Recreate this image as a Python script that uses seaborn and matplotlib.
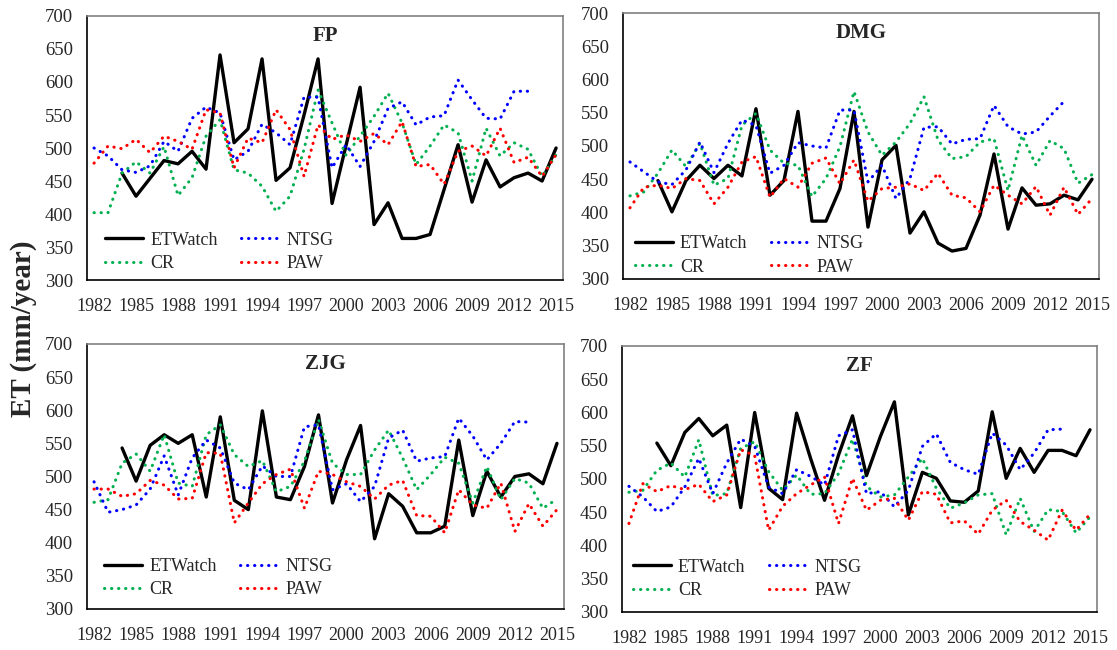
import matplotlib
matplotlib.use("Agg")
import matplotlib.pyplot as plt
import numpy as np
import pandas as pd
import seaborn as sns

nan = np.nan
years = list(range(1982, 2016))
label_years = list(range(1982, 2016, 3))
y_ticks = list(range(300, 701, 50))

# FP
fp_etwatch = [nan, nan, 462, 427, 454, 481, 476, 495, 468, 641, 508, 529, 635, 451, 470, 550, 635,
              416, 504, 592, 384, 417, 363, 363, 369, 437, 505, 418, 482, 441, 455, 462, 450, 500]
fp_cr = [402, 402, 462, 479, 462, 502, 428, 455, 518, 543, 467, 462, 442, 404, 427, 498, 588,
         538, 489, 518, 548, 583, 538, 475, 503, 535, 523, 450, 530, 488, 508, 498, 457, 490]
fp_ntsg = [500, 488, 467, 463, 473, 510, 495, 545, 562, 553, 482, 495, 536, 523, 505, 577, 577,
           470, 505, 472, 510, 560, 570, 535, 547, 549, 603, 573, 545, 544, 586, 586, nan, nan]
fp_paw = [477, 503, 499, 513, 493, 518, 510, 498, 558, 553, 470, 515, 508, 558, 528, 457, 535,
          513, 520, 510, 522, 505, 540, 472, 475, 445, 495, 503, 488, 530, 478, 486, 457, 490]

# DMG
dmg_etwatch = [nan, nan, 448, 401, 448, 471, 451, 471, 455, 556, 426, 448, 552, 387, 387, 436, 552,
               378, 479, 501, 369, 401, 354, 342, 346, 396, 488, 375, 437, 411, 413, 426, 419, 450]
dmg_cr = [425, 431, 459, 494, 469, 504, 441, 451, 531, 549, 494, 474, 471, 424, 451, 499, 582,
          521, 486, 506, 534, 574, 509, 481, 484, 506, 511, 433, 516, 471, 508, 496, 444, 457]
dmg_ntsg = [476, 461, 446, 442, 464, 506, 460, 504, 539, 531, 459, 471, 505, 500, 497, 554, 554,
            446, 471, 421, 451, 528, 529, 503, 510, 511, 561, 529, 518, 521, 545, 567, nan, nan]
dmg_paw = [407, 438, 441, 436, 451, 448, 413, 438, 476, 484, 423, 451, 438, 474, 482, 443, 479,
           417, 436, 438, 443, 433, 459, 426, 422, 401, 441, 426, 413, 439, 396, 438, 397, 421]

# ZJG
zjg_etwatch = [nan, nan, 543, 493, 547, 563, 550, 563, 469, 590, 464, 450, 599, 469, 465, 515, 593,
               460, 525, 577, 406, 474, 455, 415, 415, 425, 555, 441, 508, 469, 500, 504, 489, 550]
zjg_cr = [461, 465, 520, 534, 508, 563, 490, 485, 563, 578, 533, 515, 524, 477, 485, 523, 586,
          520, 503, 503, 540, 570, 528, 480, 503, 529, 520, 460, 515, 465, 497, 490, 452, 466]
zjg_ntsg = [492, 446, 450, 457, 481, 531, 472, 528, 555, 543, 490, 480, 516, 500, 500, 575, 578,
            480, 489, 462, 485, 558, 570, 523, 528, 530, 588, 561, 525, 550, 583, 582, nan, nan]
zjg_paw = [481, 481, 470, 474, 494, 487, 466, 467, 536, 535, 430, 460, 489, 503, 511, 452, 508,
           503, 492, 485, 466, 487, 494, 441, 440, 415, 480, 457, 452, 490, 417, 459, 425, 450]

# ZF
zf_etwatch = [nan, nan, 554, 520, 570, 591, 565, 581, 457, 600, 486, 469, 599, 531, 468, 536, 595,
              505, 564, 616, 446, 510, 501, 467, 465, 482, 601, 501, 546, 510, 543, 543, 535, 574]
zf_cr = [480, 483, 513, 524, 503, 559, 475, 478, 546, 556, 511, 483, 506, 477, 478, 508, 560,
         489, 473, 476, 503, 531, 486, 456, 464, 476, 478, 416, 471, 421, 454, 451, 419, 443]
zf_ntsg = [489, 473, 451, 458, 488, 531, 478, 524, 560, 549, 488, 478, 514, 504, 491, 565, 574,
           478, 481, 458, 483, 549, 568, 525, 514, 507, 569, 551, 514, 539, 574, 575, nan, nan]
zf_paw = [433, 493, 481, 490, 484, 492, 466, 476, 544, 535, 423, 459, 478, 491, 503, 433, 501,
          453, 468, 471, 438, 481, 477, 434, 437, 417, 453, 468, 436, 423, 408, 453, 423, 447]

products = ["ETWatch", "CR", "NTSG", "PAW"]
colors = {"ETWatch": "black", "CR": "#00B050", "NTSG": "#0000FF", "PAW": "#FF0000"}


def make_frame(etwatch, cr, ntsg, paw):
    df = pd.DataFrame({"year": years, "ETWatch": etwatch, "CR": cr, "NTSG": ntsg, "PAW": paw})
    return df.melt(id_vars="year", var_name="product", value_name="et")


panels = [
    ("FP", make_frame(fp_etwatch, fp_cr, fp_ntsg, fp_paw), [0.0779, 0.5692, 0.4262, 0.4062], (0.038, 0.03)),
    ("DMG", make_frame(dmg_etwatch, dmg_cr, dmg_ntsg, dmg_paw), [0.5577, 0.5708, 0.4262, 0.4092], (0.025, 0.013)),
    ("ZJG", make_frame(zjg_etwatch, zjg_cr, zjg_ntsg, zjg_paw), [0.0779, 0.0631, 0.4270, 0.4077], (0.036, 0.04)),
    ("ZF", make_frame(zf_etwatch, zf_cr, zf_ntsg, zf_paw), [0.5568, 0.0585, 0.4253, 0.4092], (0.023, 0.049)),
]

sns.set_style("white")
plt.rcParams["font.family"] = ["Liberation Serif"]

fig = plt.figure(figsize=(11.17, 6.5), dpi=100)

for name, df, rect, leg_pos in panels:
    ax = fig.add_axes(rect)
    for prod in products:
        sub = df[df["product"] == prod].dropna()
        if prod == "ETWatch":
            sns.lineplot(data=sub, x="year", y="et", ax=ax, color=colors[prod],
                         linewidth=2.4, label=prod)
        else:
            sns.lineplot(data=sub, x="year", y="et", ax=ax, color=colors[prod],
                         linewidth=2.2, linestyle=(0, (0.1, 2.2)),
                         dash_capstyle="round", label=prod)

    ax.set_xlim(1981.5, 2015.5)
    ax.set_ylim(300, 700)
    ax.set_yticks(y_ticks)
    ax.set_xticks(label_years)
    ax.set_xticks(np.arange(1981.5, 2016, 1), minor=True)
    ax.tick_params(axis="x", which="major", length=0, pad=13, labelsize=13)
    ax.tick_params(axis="x", which="minor", length=4, direction="out", color="black", width=1)
    ax.tick_params(axis="y", which="major", length=5, direction="out", color="black",
                   width=1, pad=5, labelsize=13.5)
    ax.set_xlabel("")
    ax.set_ylabel("")

    for side in ["left", "bottom"]:
        ax.spines[side].set_color("black")
        ax.spines[side].set_linewidth(1.2)
    for side in ["top", "right"]:
        ax.spines[side].set_color("#808080")
        ax.spines[side].set_linewidth(1.2)

    ax.text(0.5, 0.925, name, transform=ax.transAxes, ha="center", va="center",
            fontsize=15, fontweight="bold")

    ax.legend(loc="lower left", bbox_to_anchor=leg_pos, ncol=2, frameon=False, fontsize=13,
              handlelength=2.1, handletextpad=0.4, columnspacing=1.3, labelspacing=0.35,
              borderaxespad=0, borderpad=0)

fig.text(0.021, 0.494, "ET (mm/year)", rotation=90, ha="center", va="center",
         fontsize=21, fontweight="bold")

fig.savefig("out.png", dpi=100)
